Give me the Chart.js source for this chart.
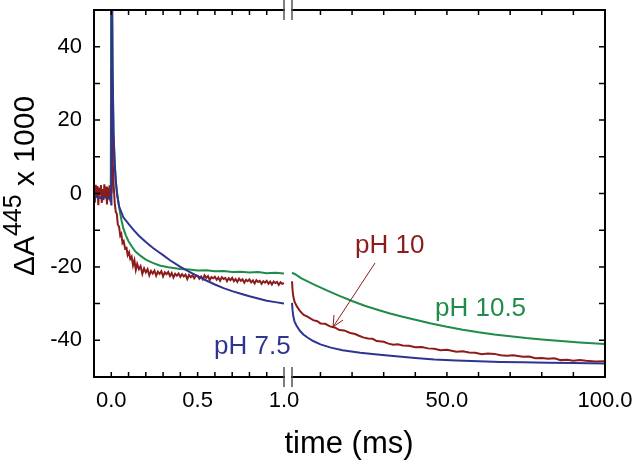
<!DOCTYPE html>
<html>
<head>
<meta charset="utf-8">
<script src="https://cdn.jsdelivr.net/npm/chart.js@4/dist/chart.umd.min.js"></script>
<style>
  html, body { margin: 0; padding: 0; background: #fff; }
  #wrap { position: relative; width: 633px; height: 464px; }
</style>
</head>
<body>
<div id="wrap"><canvas id="myChart"></canvas></div>
<script>
// tick values
const leftTicks = [0, 0.5, 1.0];
const rightTicks = [50, 100];
const yTicks = [-40, -20, 0, 20, 40];
const leftMinor = [0, 0.1, 0.2, 0.3, 0.4, 0.5, 0.6, 0.7, 0.8, 0.9];
const rightMinor = [10, 20, 30, 40, 50, 60, 70, 80, 90];
const yMinor = [-40, -30, -20, -10, 0, 10, 20, 30, 40];

// traces, [time ms, dA x 1000]
const blueLeft = [[-0.1,-1.2],[-0.08,-0.9],[-0.06,-1.3],[-0.04,-1.0],[-0.02,-1.4],[-0.002,-1.0],[0.0,-3.0],
  [0.001,80],[0.0075,34],[0.013,16.5],[0.02,8],[0.027,3],[0.035,-0.5],[0.045,-3.5],[0.07,-6.5],[0.1,-8.3],
  [0.13,-10],[0.16,-11.5],[0.2,-13.2],[0.24,-14.8],[0.27,-15.8],[0.3,-16.8],[0.34,-18.2],[0.4,-20],
  [0.45,-21.3],[0.5,-22.5],[0.55,-23.7],[0.6,-24.8],[0.65,-25.8],[0.7,-26.6],[0.75,-27.3],[0.8,-28],
  [0.85,-28.6],[0.9,-29.2],[0.95,-29.6],[1.0,-30]];
const redLeft = [[-0.1,1.5],[-0.095,-2.5],[-0.09,2.4],[-0.085,-1.2],[-0.08,2.0],[-0.075,-3.2],[-0.07,1.6],
  [-0.065,-0.2],[-0.06,2.3],[-0.055,-2.6],[-0.05,1.2],[-0.045,-1.8],[-0.04,2.5],[-0.035,-1.0],[-0.03,1.9],
  [-0.025,-3.0],[-0.02,1.5],[-0.015,-1.6],[-0.01,2.2],[-0.005,-2.2],[0.0,0.5],
  [0.002,34],[0.005,18],[0.009,8],[0.014,2],[0.02,-2.5],[0.026,-5],[0.032,-5.5],[0.038,-8.5],[0.045,-9],
  [0.052,-11.5],[0.058,-11],[0.065,-13.5],[0.072,-13],[0.08,-15],[0.088,-14.8],[0.095,-16.8],[0.103,-16],
  [0.11,-17.8],[0.118,-17.2],[0.126,-19.6],[0.134,-18.2],[0.142,-20.8],[0.15,-19.2],[0.16,-20.6],
  [0.17,-19.8],[0.18,-21.9],[0.19,-20.4],[0.2,-21.5],[0.21,-20.6],[0.22,-22.3],[0.23,-21.1],[0.24,-21.8],
  [0.25,-21.0],[0.26,-22.4],[0.27,-21.3],[0.28,-21.9],[0.29,-21.2],[0.3,-22.6],[0.31,-21.5],[0.32,-22.0],
  [0.33,-21.4],[0.34,-22.5],[0.35,-21.7],[0.36,-22.9],[0.37,-21.9],[0.38,-22.4],[0.39,-21.8],[0.4,-22.7],
  [0.41,-22.0],[0.42,-22.6],[0.43,-22.1],[0.44,-23.3],[0.45,-22.2],[0.46,-22.8],[0.47,-22.3],[0.48,-23.1],
  [0.49,-22.4],[0.5,-22.4],[0.51,-23.2],[0.52,-22.6],[0.53,-23.4],[0.54,-22.3],[0.55,-23.0],[0.56,-22.5],
  [0.57,-23.6],[0.58,-22.8],[0.59,-23.1],[0.6,-22.7],[0.61,-23.5],[0.62,-22.9],[0.63,-23.8],[0.64,-22.8],
  [0.65,-23.3],[0.66,-23.0],[0.67,-23.9],[0.68,-23.1],[0.69,-23.6],[0.7,-23.0],[0.71,-23.9],[0.72,-23.3],
  [0.73,-24.1],[0.74,-23.2],[0.75,-23.8],[0.76,-23.4],[0.77,-24.3],[0.78,-23.5],[0.79,-23.9],[0.8,-23.4],
  [0.81,-24.2],[0.82,-23.7],[0.83,-24.5],[0.84,-23.6],[0.85,-24.1],[0.86,-23.8],[0.87,-24.6],[0.88,-23.9],
  [0.89,-24.3],[0.9,-23.8],[0.91,-24.6],[0.92,-24.0],[0.93,-24.8],[0.94,-24.0],[0.95,-24.4],[0.96,-24.1],
  [0.97,-24.9],[0.98,-24.2],[0.99,-24.6],[1.0,-24.4]];
const greenLeft = [[-0.1,-0.8],[-0.08,-0.5],[-0.06,-1.1],[-0.04,-0.6],[-0.02,-1.0],[-0.003,-0.7],
  [0.001,80],[0.0075,34],[0.013,16.5],[0.02,8],[0.027,3],[0.033,0],[0.04,-2],[0.05,-5],[0.06,-7.5],
  [0.07,-9.5],[0.085,-11.5],[0.1,-13],[0.12,-14.5],[0.14,-15.8],[0.17,-17],[0.2,-18],[0.24,-18.9],
  [0.28,-19.6],[0.33,-20.1],[0.4,-20.6],[0.45,-20.7],[0.5,-21],[0.55,-20.9],[0.6,-21.2],[0.65,-21.1],
  [0.7,-21.4],[0.75,-21.3],[0.8,-21.5],[0.85,-21.4],[0.9,-21.7],[0.95,-21.6],[1.0,-21.8]];

const blueRight = [[1,-29.8],[1.2,-32],[1.4,-33.4],[1.8,-34.9],[2.5,-36.1],[3.5,-37.4],[4.6,-38.4],[6,-39.3],
  [7.7,-40.2],[10,-41.1],[13.3,-42],[17,-42.7],[22.6,-43.4],[28,-43.9],[33,-44.3],[40,-44.8],[46,-45.2],
  [53,-45.5],[60,-45.7],[67,-45.9],[74,-46],[82,-46.1],[90,-46.2],[100,-46.3]];
const redRight = [[1,-23.9],[1.2,-26.5],[1.4,-28],[1.8,-29.5],[2.5,-30.7],[3.5,-32],[4.6,-33],[6,-33.6],
  [7.7,-34.5],[9,-34.8],[10,-35.4],[11.5,-35.5],[13,-36.2],[14.5,-36.5],[16,-37.2],[17.5,-37.3],
  [19.4,-38],[21,-38.3],[22,-38.7],[23.5,-39.2],[25,-39.5],[26.5,-39.6],[27.8,-40.2],[30,-40.4],
  [31.5,-40.9],[33,-41.2],[34.5,-41.1],[36,-41.4],[38,-41.5],[40,-41.9],[42,-41.8],[44,-42.2],
  [46,-42.3],[48,-42.7],[50,-42.6],[53,-43.1],[55,-43.0],[57,-43.3],[59,-43.4],[61,-43.8],[63,-43.6],
  [65,-43.7],[67,-44.1],[69,-44.2],[71,-44.1],[74,-44.5],[76,-44.4],[78,-44.9],[80,-44.8],[82,-45],
  [84,-44.9],[86,-45.4],[88,-45.3],[90,-45.6],[92,-45.4],[94,-45.6],[97,-45.8],[100,-45.7]];
const greenRight = [[1,-21.6],[2,-22],[4,-23.1],[7.7,-24.7],[12,-26.4],[16,-27.9],[20,-29.3],[24,-30.6],
  [28.8,-31.9],[32,-32.7],[36,-33.6],[40,-34.4],[45,-35.4],[50,-36.3],[55,-37.1],[60,-37.8],[65,-38.4],
  [70,-38.9],[75,-39.4],[80,-39.8],[86,-40.2],[92,-40.6],[100,-41]];

const BLUE = '#2e3590';
const RED = '#8c1c1c';
const GREEN = '#1f8c4a';
const FONT = '"Liberation Sans", Arial, sans-serif';

function pts(arr) {
  return arr.map(p => ({x: p[0], y: p[1]}));
}
function trace(arr, color, axis) {
  return {
    data: pts(arr),
    xAxisID: axis,
    borderColor: color,
    backgroundColor: color,
    borderWidth: 2,
    pointRadius: 0,
    tension: 0,
    fill: false
  };
}

// no automatic label padding, the layout padding places the frame
function noPad(s) {
  s.paddingTop = 0; s.paddingBottom = 0; s.paddingLeft = 0; s.paddingRight = 0;
}

const decor = {
  id: 'decor',
  afterDraw(chart) {
    const {ctx, chartArea: a, scales} = chart;
    const xL = scales.xL, xR = scales.xR, y = scales.y;
    ctx.save();
    // frame
    ctx.strokeStyle = '#000';
    ctx.lineWidth = 2;
    ctx.strokeRect(a.left, a.top, a.right - a.left, a.bottom - a.top);
    // inward ticks on all sides
    ctx.lineWidth = 1.5;
    ctx.beginPath();
    yMinor.forEach(v => {
      const p = y.getPixelForValue(v);
      ctx.moveTo(a.left, p); ctx.lineTo(a.left + 6, p);
      ctx.moveTo(a.right, p); ctx.lineTo(a.right - 6, p);
    });
    leftMinor.forEach(v => {
      const p = xL.getPixelForValue(v);
      ctx.moveTo(p, a.bottom); ctx.lineTo(p, a.bottom - 5);
      ctx.moveTo(p, a.top); ctx.lineTo(p, a.top + 5);
    });
    rightMinor.forEach(v => {
      const p = xR.getPixelForValue(v);
      ctx.moveTo(p, a.bottom); ctx.lineTo(p, a.bottom - 5);
      ctx.moveTo(p, a.top); ctx.lineTo(p, a.top + 5);
    });
    ctx.stroke();
    // axis break
    const b1 = xL.right, b2 = xR.getPixelForValue(1);
    ctx.fillStyle = '#fff';
    ctx.fillRect(b1 + 1, a.top - 2, b2 - b1 - 2, 4);
    ctx.fillRect(b1 + 1, a.bottom - 2, b2 - b1 - 2, 4);
    ctx.strokeStyle = '#555';
    ctx.lineWidth = 1.5;
    ctx.beginPath();
    [b1, b2].forEach(bx => {
      ctx.moveTo(bx, a.top - 10); ctx.lineTo(bx, a.top + 10);
      ctx.moveTo(bx, a.bottom - 10); ctx.lineTo(bx, a.bottom + 10);
    });
    ctx.stroke();

    // axis titles
    ctx.fillStyle = '#000';
    ctx.font = '31px ' + FONT;
    ctx.textAlign = 'center';
    ctx.textBaseline = 'alphabetic';
    ctx.fillText('time (ms)', 349, 453);

    ctx.save();
    ctx.translate(34, 186);
    ctx.rotate(-Math.PI / 2);
    ctx.textAlign = 'left';
    const big = '30px ' + FONT, small = '25px ' + FONT;
    ctx.font = big;
    const w1 = ctx.measureText('\u0394A').width;
    const w3 = ctx.measureText(' x 1000').width;
    ctx.font = small;
    const w2 = ctx.measureText('445').width;
    let x0 = -(w1 + w2 + w3) / 2;
    ctx.font = big;
    ctx.fillText('\u0394A', x0, 0);
    ctx.font = small;
    ctx.fillText('445', x0 + w1, -13);
    ctx.font = big;
    ctx.fillText(' x 1000', x0 + w1 + w2, 0);
    ctx.restore();

    // curve labels
    ctx.font = '26px ' + FONT;
    ctx.textAlign = 'left';
    ctx.fillStyle = BLUE;
    ctx.fillText('pH 7.5', 214, 354);
    ctx.fillStyle = RED;
    ctx.fillText('pH 10', 355, 253);
    ctx.fillStyle = GREEN;
    ctx.fillText('pH 10.5', 435, 316);

    // arrow to the pH 10 trace
    ctx.strokeStyle = RED;
    ctx.lineWidth = 1;
    ctx.beginPath();
    ctx.moveTo(375, 263);
    ctx.lineTo(333, 327);
    ctx.moveTo(333, 327);
    ctx.lineTo(334, 315);
    ctx.moveTo(333, 327);
    ctx.lineTo(343, 320);
    ctx.stroke();
    ctx.restore();
  }
};

const tickFont = {family: FONT, size: 22};

const config = {
  type: 'line',
  data: {
    datasets: [
      trace(blueLeft, BLUE, 'xL'),
      trace(redLeft, RED, 'xL'),
      trace(greenLeft, GREEN, 'xL'),
      trace(blueRight, BLUE, 'xR'),
      trace(redRight, RED, 'xR'),
      trace(greenRight, GREEN, 'xR')
    ]
  },
  options: {
    responsive: true,
    maintainAspectRatio: false,
    animation: false,
    layout: { padding: { top: 10, right: 28, left: 0, bottom: 0 } },
    plugins: { legend: { display: false }, tooltip: { enabled: false } },
    scales: {
      xL: {
        type: 'linear', position: 'bottom', stack: 'time', stackWeight: 190,
        min: -0.1, max: 1.0,
        grid: { display: false, drawTicks: false }, border: { display: false },
        ticks: { color: '#000', font: tickFont, padding: 11, maxRotation: 0, autoSkip: false,
          callback: v => v.toFixed(1) },
        afterBuildTicks: s => { s.ticks = leftTicks.map(v => ({value: v})); },
        afterFit: s => { s.height = 87; noPad(s); }
      },
      xR: {
        type: 'linear', position: 'bottom', stack: 'time', stackWeight: 321,
        min: -1.53, max: 100,
        grid: { display: false, drawTicks: false }, border: { display: false },
        ticks: { color: '#000', font: tickFont, padding: 11, maxRotation: 0, autoSkip: false,
          callback: v => v.toFixed(1) },
        afterBuildTicks: s => { s.ticks = rightTicks.map(v => ({value: v})); },
        afterFit: s => { s.height = 87; noPad(s); }
      },
      y: {
        min: -50, max: 50,
        grid: { display: false, drawTicks: false }, border: { display: false },
        ticks: { color: '#000', font: tickFont, padding: 12 },
        afterBuildTicks: s => { s.ticks = yTicks.map(v => ({value: v})); },
        afterFit: s => { s.width = 94; noPad(s); }
      }
    }
  },
  plugins: [decor]
};

const myChart = new Chart(document.getElementById('myChart'), config);
</script>
</body>
</html>
